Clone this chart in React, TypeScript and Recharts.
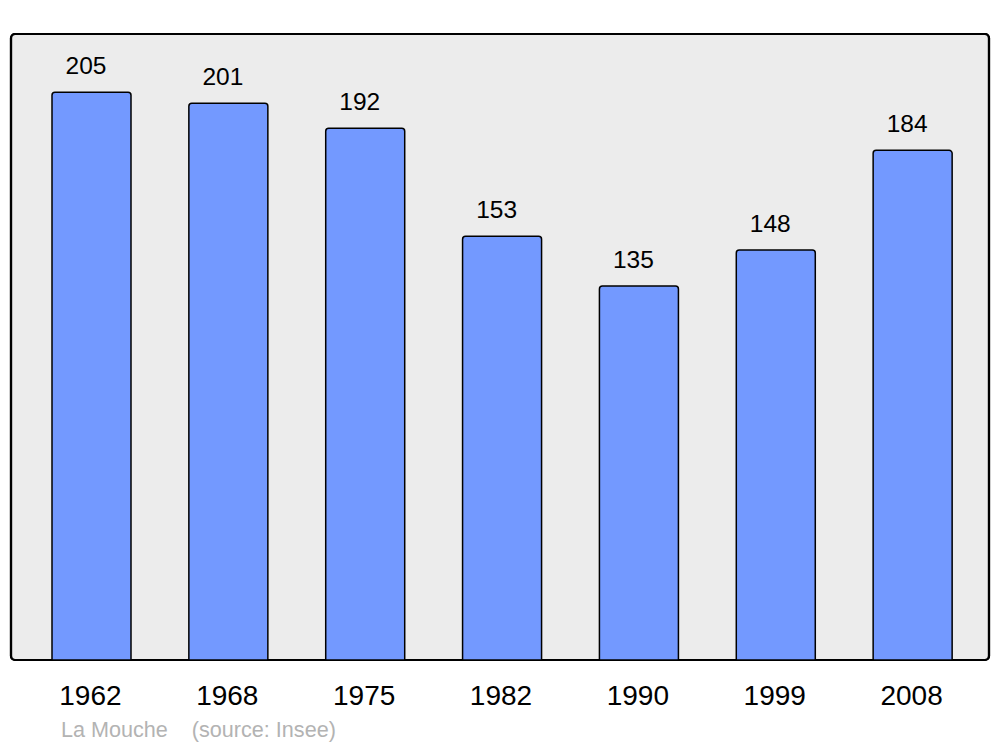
import React from 'react';
import { BarChart, Bar, XAxis, YAxis, LabelList, usePlotArea } from 'recharts';

const years = ['1962', '1968', '1975', '1982', '1990', '1999', '2008'];
const population = [205, 201, 192, 153, 135, 148, 184];
const footerText = 'La Mouche    (source: Insee)';

const data = years.map((y, i) => ({ year: y, value: population[i] }));

const FONT = '"Liberation Sans", Arial, sans-serif';

function PlotFrame() {
  const area = usePlotArea();
  if (!area) return null;
  return (
    <rect
      x={area.x}
      y={area.y}
      width={area.width}
      height={area.height}
      rx={4}
      ry={4}
      fill="#ececec"
      stroke="#000"
      strokeWidth={2.2}
    />
  );
}

function PlotBorder() {
  const area = usePlotArea();
  if (!area) return null;
  return (
    <rect
      x={area.x}
      y={area.y}
      width={area.width}
      height={area.height}
      rx={4}
      ry={4}
      fill="none"
      stroke="#000"
      strokeWidth={2.2}
    />
  );
}

const YearTick = (props: any) => {
  const { x, y, payload } = props;
  return (
    <text x={x - 1} y={y + 45} textAnchor="middle" fontSize={28} fontFamily={FONT} fill="#000">
      {payload.value}
    </text>
  );
};

const ValueLabel = (props: any) => {
  const { x, y, width, value } = props;
  return (
    <text x={x + width / 2 - 5.5} y={y - 18} textAnchor="middle" fontSize={24.5} fontFamily={FONT} fill="#000">
      {value}
    </text>
  );
};

export default function App() {
  return (
    <div style={{ position: 'absolute', left: 0, top: 0, width: 1000, height: 747, background: '#fff' }}>
      <BarChart
        width={1000}
        height={747}
        data={data}
        margin={{ top: 34, right: 11, bottom: 27, left: 11 }}
        barSize={79}
      >
        <PlotFrame />
        <YAxis hide domain={[0, 226]} />
        <XAxis
          dataKey="year"
          axisLine={false}
          tickLine={false}
          tickSize={0}
          tickMargin={0}
          height={60}
          padding={{ left: 12, right: 8 }}
          tick={<YearTick />}
          interval={0}
        />
        <Bar
          dataKey="value"
          fill="#7399ff"
          stroke="#000"
          strokeWidth={1.5}
          radius={[3, 3, 0, 0]}
          isAnimationActive={false}
        >
          <LabelList dataKey="value" content={<ValueLabel />} />
        </Bar>
        <PlotBorder />
      </BarChart>
      <div
        style={{
          position: 'absolute',
          left: 61,
          top: 719,
          fontFamily: FONT,
          fontSize: 21.6,
          lineHeight: '21.6px',
          color: '#b3b3b3',
          whiteSpace: 'pre',
        }}
      >
        {footerText}
      </div>
    </div>
  );
}
